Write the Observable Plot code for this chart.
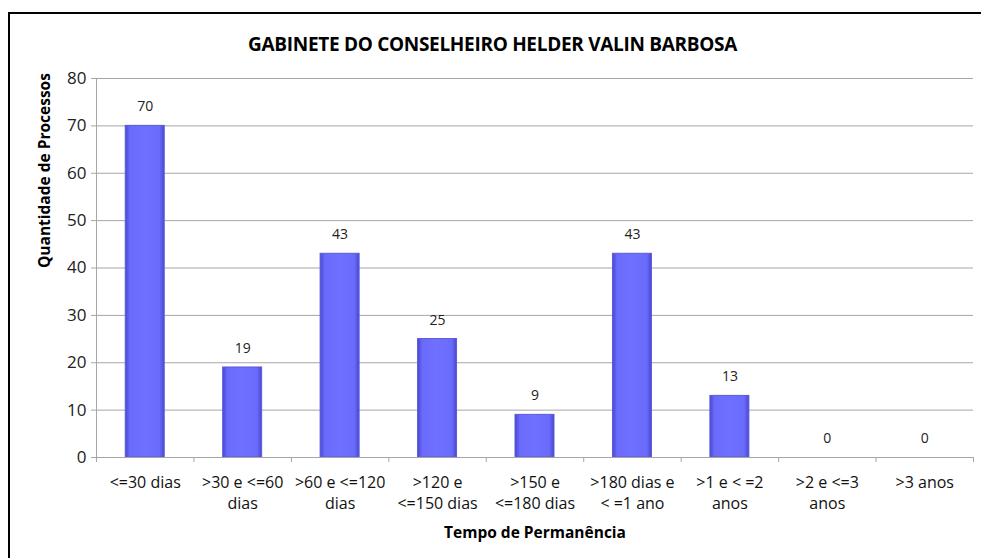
<!DOCTYPE html>
<html>
<head>
<meta charset="utf-8">
<script src="https://cdn.jsdelivr.net/npm/d3@7"></script>
<script src="https://cdn.jsdelivr.net/npm/@observablehq/plot@0.6"></script>
<style>
  html, body { margin: 0; padding: 0; background: #fff; }
  #wrap { position: relative; width: 981px; height: 558px; overflow: hidden; font-family: "Open Sans", sans-serif; }
  #frame { position: absolute; left: 8px; top: 12px; width: 990px; height: 560px; border-left: 2px solid #000; border-top: 2px solid #000; }
  #title { position: absolute; left: 0; width: 985px; top: 31px; text-align: center; font-weight: bold; font-size: 19px; color: #000; letter-spacing: -0.3px; }
  #chart { position: absolute; left: 0; top: 60px; }
</style>
</head>
<body>
<div id="wrap">
  <div id="frame"></div>
  <div id="title">GABINETE DO CONSELHEIRO HELDER VALIN BARBOSA</div>
  <div id="chart"></div>
</div>
<script>
const categories = [
  "<=30 dias",
  ">30 e <=60\ndias",
  ">60 e <=120\ndias",
  ">120 e\n<=150 dias",
  ">150 e\n<=180 dias",
  ">180 dias e\n< =1 ano",
  ">1 e < =2\nanos",
  ">2 e <=3\nanos",
  ">3 anos"
];
const values = [70, 19, 43, 25, 9, 43, 13, 0, 0];
const yTicks = [0, 10, 20, 30, 40, 50, 60, 70, 80];
const yLabel = "Quantidade de Processos";
const xLabel = "Tempo de Permanência";

const data = categories.map((c, i) => ({i, c, v: values[i]}));
const boundaries = d3.range(categories.length + 1);

const defs = () => {
  const d = d3.create("svg:defs");
  const g = d.append("linearGradient").attr("id", "barGrad").attr("x1", "0").attr("x2", "1").attr("y1", "0").attr("y2", "0");
  g.append("stop").attr("offset", "0").attr("stop-color", "#4848d0");
  g.append("stop").attr("offset", "0.12").attr("stop-color", "#6a6afc");
  g.append("stop").attr("offset", "0.5").attr("stop-color", "#7070ff");
  g.append("stop").attr("offset", "0.88").attr("stop-color", "#6a6afc");
  g.append("stop").attr("offset", "1").attr("stop-color", "#4848d0");
  return d.node();
};

const chart = Plot.plot({
  width: 981,
  height: 498,
  marginLeft: 96,
  marginRight: 8,
  marginTop: 18,
  marginBottom: 101,
  style: {fontFamily: "'Open Sans', sans-serif", fontSize: "14px", color: "#000", background: "transparent"},
  x: {type: "linear", domain: [0, categories.length], axis: null},
  y: {domain: [0, 80], axis: null},
  marks: [
    defs,
    Plot.gridY(yTicks, {stroke: "#a6a6a6", strokeOpacity: 1, strokeWidth: 1}),
    Plot.axisY(yTicks, {tickSize: 5, tickPadding: 5, stroke: "#a6a6a6", fill: "#222", fontSize: 17, label: null}),
    Plot.ruleX([0], {stroke: "#a6a6a6"}),
    Plot.axisX(boundaries, {tickSize: 5, tickFormat: () => "", stroke: "#a6a6a6", label: null}),
    Plot.rectY(data, {x1: d => d.i + 0.3, x2: d => d.i + 0.7, y1: 0, y2: "v", fill: "url(#barGrad)", stroke: "#5a5ad8", strokeWidth: 1}),
    Plot.ruleY([0], {stroke: "#a6a6a6"}),
    Plot.text(data, {x: d => d.i + 0.5, y: "v", text: d => String(d.v), dy: -19, fontSize: 14, fill: "#222"}),
    Plot.text(data, {x: d => d.i + 0.5, y: 0, text: "c", dy: 15, lineAnchor: "top", fontSize: 16, fill: "#111", lineHeight: 1.32}),
    Plot.text([xLabel], {frameAnchor: "bottom", dy: 80, fontSize: 15.5, fontWeight: "bold", fill: "#000"}),
    Plot.text([yLabel], {frameAnchor: "left", dx: -51, rotate: -90, fontSize: 15.5, fontWeight: "bold", fill: "#000"})
  ]
});
document.getElementById("chart").appendChild(chart);
</script>
</body>
</html>
